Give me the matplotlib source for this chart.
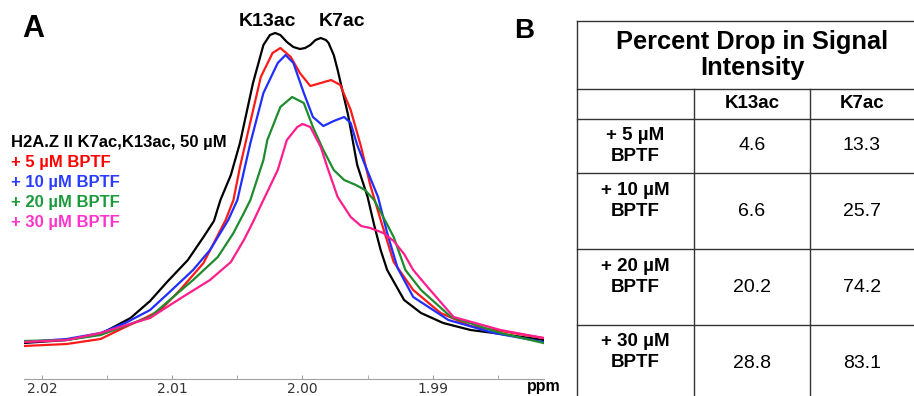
import matplotlib
matplotlib.use("Agg")
import matplotlib.pyplot as plt
from matplotlib.ticker import MultipleLocator, FormatStrFormatter

# ---- panel A: acetyl-lysine 1H signal, chemical shift (ppm) vs intensity (a.u.)
ppm_ref = [2.0214, 2.0181, 2.0155, 2.0132, 2.0117, 2.0104, 2.0088, 2.0076, 2.0068, 2.0063,
           2.0055, 2.0048, 2.0038, 2.0030, 2.0025, 2.0021, 2.0017, 2.0012, 2.0007, 2.0002,
           1.9998, 1.9994, 1.9990, 1.9986, 1.9982, 1.9980, 1.9976, 1.9973, 1.9965, 1.9958,
           1.9950, 1.9945, 1.9940, 1.9935, 1.9922, 1.9909, 1.9892, 1.9871, 1.9853, 1.9815]
int_ref = [2, 5, 11, 27, 44, 63, 85, 108, 124, 145,
           170, 202, 262, 300, 310, 312, 310, 303, 298, 296,
           297, 300, 305, 307, 305, 302, 290, 275, 230, 180,
           148, 120, 95, 75, 45, 32, 22, 15, 12, 5]

ppm_5 = [2.0214, 2.0181, 2.0155, 2.0136, 2.0121, 2.0109, 2.0094, 2.0076, 2.0059, 2.0053,
         2.0048, 2.0042, 2.0032, 2.0023, 2.0017, 2.0009, 2.0002, 1.9994, 1.9986, 1.9978,
         1.9971, 1.9963, 1.9955, 1.9948, 1.9940, 1.9930, 1.9915, 1.9894, 1.9871, 1.9848, 1.9815]
int_5 = [-1, 1, 6, 18, 27, 35, 55, 82, 125, 145,
         178, 212, 268, 292, 297, 288, 272, 259, 262, 265,
         260, 235, 198, 160, 125, 83, 55, 32, 19, 14, 7]

ppm_10 = [2.0214, 2.0181, 2.0155, 2.0136, 2.0117, 2.0102, 2.0084, 2.0071, 2.0057, 2.0050,
          2.0040, 2.0030, 2.0019, 2.0013, 2.0007, 1.9999, 1.9992, 1.9984, 1.9976, 1.9968,
          1.9963, 1.9958, 1.9952, 1.9942, 1.9935, 1.9927, 1.9915, 1.9888, 1.9853, 1.9815]
int_10 = [3, 6, 12, 22, 35, 53, 75, 95, 125, 145,
          202, 252, 282, 290, 282, 252, 228, 219, 224, 228,
          222, 200, 180, 148, 112, 77, 48, 25, 12, 3]

ppm_20 = [2.0214, 2.0181, 2.0155, 2.0130, 2.0117, 2.0102, 2.0084, 2.0065, 2.0053, 2.0045,
          2.0040, 2.0030, 2.0027, 2.0017, 2.0008, 1.9999, 1.9992, 1.9984, 1.9976, 1.9968,
          1.9959, 1.9952, 1.9945, 1.9938, 1.9930, 1.9921, 1.9909, 1.9886, 1.9848, 1.9815]
int_20 = [4, 5, 10, 22, 28, 45, 65, 88, 112, 132,
          145, 185, 205, 238, 248, 242, 218, 195, 175, 165,
          160, 155, 145, 128, 108, 75, 55, 28, 12, 2]

ppm_30 = [2.0214, 2.0181, 2.0155, 2.0130, 2.0117, 2.0104, 2.0092, 2.0071, 2.0055, 2.0045,
          2.0038, 2.0030, 2.0019, 2.0012, 2.0004, 2.0000, 1.9994, 1.9986, 1.9981, 1.9973,
          1.9963, 1.9955, 1.9948, 1.9938, 1.9930, 1.9922, 1.9915, 1.9904, 1.9884, 1.9848, 1.9815]
int_30 = [3, 5, 12, 22, 27, 38, 48, 65, 83, 105,
          123, 145, 175, 205, 218, 221, 218, 198, 178, 148,
          128, 119, 117, 112, 104, 91, 75, 58, 28, 15, 7]

series_ppm = [ppm_ref, ppm_5, ppm_10, ppm_20, ppm_30]
series_int = [int_ref, int_5, int_10, int_20, int_30]
series_labels = ["H2A.Z II K7ac,K13ac, 50 µM", "+ 5 µM BPTF", "+ 10 µM BPTF",
                 "+ 20 µM BPTF", "+ 30 µM BPTF"]
line_colors = ["#000000", "#ff1a1a", "#1f2fff", "#1e8c2e", "#ff1e8c"]
text_colors = ["#000000", "#ff0000", "#2a3cff", "#1a9a3a", "#ff33cc"]

# ---- panel B: percent drop in signal intensity
conc_labels = ["+ 5 µM\nBPTF", "+ 10 µM\nBPTF", "+ 20 µM\nBPTF", "+ 30 µM\nBPTF"]
drop_k13 = [4.6, 6.6, 20.2, 28.8]
drop_k7 = [13.3, 25.7, 74.2, 83.1]

W, H = 914, 396
fig = plt.figure(figsize=(W / 100, H / 100), dpi=100)

ax = fig.add_axes([24 / W, 17 / H, 520 / W, 359 / H])
for x, y, c in zip(series_ppm, series_int, line_colors):
    ax.plot(x, y, color=c, lw=1.6, solid_joinstyle="round")
ax.set_xlim(2.02138, 1.98146)
ax.set_ylim(-34, 325)
for s in ["top", "right", "left"]:
    ax.spines[s].set_visible(False)
ax.spines["bottom"].set_color("#a0a0a0")
ax.set_yticks([])
ax.xaxis.set_major_locator(MultipleLocator(0.01))
ax.xaxis.set_minor_locator(MultipleLocator(0.005))
ax.xaxis.set_major_formatter(FormatStrFormatter("%.2f"))
ax.tick_params(axis="x", which="both", direction="in", length=3, color="#a0a0a0",
               labelsize=10, labelcolor="#333333", pad=2)
ax.patch.set_alpha(0)

# overlay in pixel coords for labels and the table
ov = fig.add_axes([0, 0, 1, 1])
ov.set_xlim(0, W)
ov.set_ylim(H, 0)
ov.axis("off")
ov.patch.set_alpha(0)

bold = dict(family="Liberation Sans", weight="bold")
ov.text(527, 387, "ppm", fontsize=11.5, va="center", ha="left", **bold)
ov.text(22, 29, "A", fontsize=22, va="center", ha="left", **bold)
ov.text(514, 31, "B", fontsize=20, va="center", ha="left", **bold)
ov.text(268, 21, "K13ac", fontsize=14, va="center", ha="center", **bold)
ov.text(342, 21, "K7ac", fontsize=14, va="center", ha="center", **bold)

for i, (lab, c) in enumerate(zip(series_labels, text_colors)):
    ov.text(11, 142 + i * 20, lab, color=c, fontsize=12, va="center", ha="left", **bold)

# table grid
lc = "#333333"
x_left, x_c1, x_c2, x_right = 577, 694, 810, 914
rows_y = [21, 89, 119, 173, 249, 325]
for y in rows_y:
    ov.plot([x_left, x_right], [y, y], color=lc, lw=1)
ov.plot([x_left, x_left], [rows_y[0], H], color=lc, lw=1)
for x in (x_c1, x_c2):
    ov.plot([x, x], [rows_y[1], H], color=lc, lw=1)

ov.text(752, 55, "Percent Drop in Signal\nIntensity", fontsize=18.3,
        ha="center", va="center", linespacing=1.15, **bold)
ov.text((x_c1 + x_c2) / 2, 104, "K13ac", fontsize=13.5, ha="center", va="center", **bold)
ov.text(862, 104, "K7ac", fontsize=13.5, ha="center", va="center", **bold)

label_y = [146, 201, 277, 352]
value_y = [146, 212, 288, 363]
for lab, k13, k7, ly, vy in zip(conc_labels, drop_k13, drop_k7, label_y, value_y):
    ov.text((x_left + x_c1) / 2, ly, lab, fontsize=13.5, ha="center", va="center",
            linespacing=1.3, **bold)
    ov.text((x_c1 + x_c2) / 2, vy, f"{k13:.1f}", fontsize=14, ha="center", va="center",
            family="Liberation Sans")
    ov.text(862, vy, f"{k7:.1f}", fontsize=14, ha="center", va="center",
            family="Liberation Sans")

fig.savefig("out.png", dpi=100)
